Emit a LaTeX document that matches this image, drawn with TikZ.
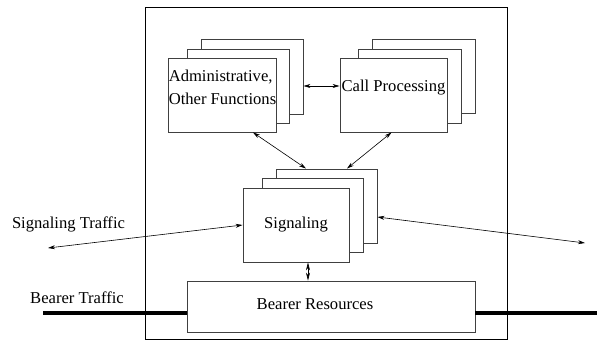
\documentclass[tikz,border=0pt]{standalone}
\usepackage{fontspec}
\setmainfont{Liberation Serif}
\usetikzlibrary{arrows.meta,calc}
\begin{document}
\begin{tikzpicture}[x=1pt,y=-1pt,
  box/.style={draw=black!75,line width=0.9pt,fill=white,inner sep=0pt,minimum height=74pt},
  lbl/.style={inner sep=0pt,font=\fontsize{16.6}{23}\selectfont},
  conn/.style={line width=0.6pt,{Stealth[length=7pt,width=4pt]}-{Stealth[length=7pt,width=4pt]}},
  thick traffic/.style={line width=4pt}]
\useasboundingbox (0,0) rectangle (597,341);
% outer box
\draw[line width=0.8pt] (145,7) rectangle (507,339);
% admin stack
\node[box,minimum width=102pt,minimum height=75pt] (admin3) at (252,76.5) {};
\node[box,minimum width=102pt] (admin2) at (238,86) {};
\node[box,minimum width=108pt] (adminfront) at (222,95) {};
\node[lbl,align=left] (admintext) at (222.5,87.5) {Administrative,\\Other Functions};
% call processing stack
\node[box,minimum width=103pt] (call3) at (423.5,76) {};
\node[box,minimum width=103pt] (call2) at (409.5,86) {};
\node[box,minimum width=107pt] (callfront) at (393.5,95) {};
\node[lbl] (calltext) at (393.5,88) {Call Processing};
% signaling stack
\node[box,minimum width=101pt] (sig3) at (326.5,206) {};
\node[box,minimum width=101pt] (sig2) at (312.5,215.5) {};
\node[box,minimum width=106pt,font=\fontsize{16.6}{23}\selectfont] (sigfront) at (296,225) {Signaling};
% bearer
\node[box,minimum width=288pt,minimum height=51pt] (bearer) at (331,306.5) {};
\node[lbl] (bearertext) at (315,304) {Bearer Resources};
% external labels
\node[lbl] (sigtraffic) at (68.5,224) {Signaling Traffic};
\node[lbl] (beartraffic) at (77,298) {Bearer Traffic};
\coordinate (sigL) at (48,248);
\coordinate (sigR) at (585,243);
\coordinate (bearL) at (43,313);
\coordinate (bearR) at (597,313);
% connectors
\draw[conn] (admin3.east |- call2.west) -- (callfront.west |- call2.west);
\draw[conn] ([xshift=31pt]adminfront.south) -- ([xshift=-20.5pt]sig3.north);
\draw[conn] ([xshift=-2pt]callfront.south) -- ([xshift=20.5pt]sig3.north);
\draw[conn] (sigfront.west) -- (sigL);
\draw[conn] ([yshift=-11pt]sig3.east) -- (sigR);
\draw[line width=0.6pt,{Stealth[length=8pt,width=4pt]}-{Stealth[length=8pt,width=4pt]}] ([xshift=12pt]sigfront.south) -- ([xshift=12pt]sigfront.south |- bearer.north);
\draw[thick traffic] (bearL) -- (bearL -| bearer.west);
\draw[thick traffic] (bearR -| bearer.east) -- (bearR);
\end{tikzpicture}
\end{document}
